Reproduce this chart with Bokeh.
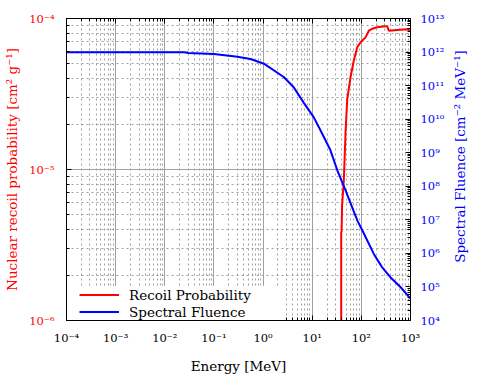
import math
from bokeh.plotting import figure
from bokeh.models import (Range1d, LogScale, LogAxis, FixedTicker, CustomJSTickFormatter,
                          Legend, Label)
from bokeh.embed import file_html
from bokeh.resources import INLINE

# ---- data ----
recoil_energy = [38.9, 38.9, 39.6, 40.5, 44.0, 47.6, 51.5, 60.3, 70.1, 82.4, 96.2, 121.6,
                 142.0, 166.0, 210.0, 309.0, 336.0, 363.0, 537.0, 857.0, 1000.0]
recoil_prob = [1e-8, 3.85e-6, 3.85e-6, 5.75e-6, 8.5e-6, 1.74e-5, 2.9e-5, 4.1e-5, 5.25e-5,
               6.45e-5, 6.97e-5, 7.5e-5, 8.3e-5, 8.55e-5, 8.75e-5, 8.9e-5, 8.85e-5, 8.3e-5,
               8.4e-5, 8.5e-5, 8.25e-5]

fluence_energy = [1e-4, 1e-3, 1e-2, 0.025, 0.03, 0.1, 0.3, 0.555, 1.04, 2.63, 4.2, 6.8,
                  10.7, 14.8, 23.4, 32.4, 47.9, 83.0, 105.0, 178.0, 263.0, 389.0, 631.0, 1000.0]
fluence = [9.8e11, 9.8e11, 9.8e11, 9.8e11, 9.4e11, 8.8e11, 7.3e11, 6.2e11, 4.5e11, 1.8e11,
           8.9e10, 3.0e10, 1.15e10, 4.6e9, 1.2e9, 3.0e8, 7.4e7, 9.5e6, 4.8e6, 9.8e5, 3.9e5,
           1.95e5, 9.8e4, 4.5e4]

x_exponents = list(range(-4, 4))
left_exponents = list(range(-6, -3))
right_exponents = list(range(4, 14))

labels = ["Recoil Probability", "Spectral Fluence"]
x_title = "Energy [MeV]"
left_title = "Nuclear recoil probability [cm\u00b2 g\u207b\u00b9]"
right_title = "Spectral Fluence [cm\u207b\u00b2 MeV\u207b\u00b9]"

FONT = "DejaVu Serif"
TICK_FS = "11.5px"
LABEL_FS = "13.5px"
GRID = "#a0a0a0"
FRAME_W, FRAME_H = 344, 302


def decade_ticks(exps):
    major = [10.0 ** e for e in exps]
    minor = [m * 10.0 ** e for e in exps[:-1] for m in range(2, 10)]
    return FixedTicker(ticks=major, minor_ticks=minor)


sup_fmt = CustomJSTickFormatter(code="""
const sup = {'-':'\u207b','0':'\u2070','1':'\u00b9','2':'\u00b2','3':'\u00b3','4':'\u2074',
             '5':'\u2075','6':'\u2076','7':'\u2077','8':'\u2078','9':'\u2079'};
const e = Math.round(Math.log10(tick));
return '10' + String(e).split('').map(c => sup[c]).join('');
""")
blank_fmt = CustomJSTickFormatter(code="return '';")

p = figure(frame_width=FRAME_W, frame_height=FRAME_H,
           x_axis_type="log", y_axis_type="log",
           x_range=Range1d(1e-4, 1e3), y_range=Range1d(1e-6, 1e-4),
           output_backend="svg", toolbar_location=None,
           min_border_left=66, min_border_right=84, min_border_top=18, min_border_bottom=52)
p.extra_y_ranges = {"flu": Range1d(1e4, 1e13)}
p.extra_y_scales = {"flu": LogScale()}
p.outline_line_color = "black"
p.outline_line_width = 1
p.background_fill_color = "white"
p.border_fill_color = "white"

xt = decade_ticks(x_exponents)
lt = decade_ticks(left_exponents)
rt = decade_ticks(right_exponents)


def style_axis(ax, color, label_color):
    ax.axis_line_color = "black"
    ax.major_tick_line_color = "black"
    ax.minor_tick_line_color = "black"
    ax.major_tick_in = 5
    ax.major_tick_out = 0
    ax.minor_tick_in = 3
    ax.minor_tick_out = 0
    ax.major_label_text_font = FONT
    ax.major_label_text_font_size = TICK_FS
    ax.major_label_text_color = color
    ax.axis_label_text_font = FONT
    ax.axis_label_text_font_size = LABEL_FS
    ax.axis_label_text_font_style = "normal"
    ax.axis_label_text_color = label_color


xa = p.xaxis[0]
xa.ticker = xt
xa.formatter = sup_fmt
xa.axis_label = x_title
style_axis(xa, "black", "black")
xa.major_label_standoff = 10
xa.axis_label_standoff = 10

ya = p.yaxis[0]
ya.ticker = lt
ya.formatter = sup_fmt
ya.axis_label = left_title
style_axis(ya, "red", "red")
ya.major_label_standoff = 12
ya.axis_label_standoff = 6

ra = LogAxis(y_range_name="flu", ticker=rt, formatter=sup_fmt)
style_axis(ra, "blue", "blue")
ra.major_label_standoff = 10
p.add_layout(ra, "right")

# right-hand title reading bottom-to-top, as in the reference
rlab = Label(x=12, y=FRAME_H / 2 + 13, x_units="screen", y_units="screen",
             text=right_title, angle=math.pi / 2, angle_units="rad",
             text_align="center", text_baseline="middle",
             text_font=FONT, text_font_size=LABEL_FS, text_color="blue")
p.add_layout(rlab, "right")

ta = LogAxis(ticker=xt, formatter=blank_fmt)
style_axis(ta, "black", "black")
ta.major_label_text_font_size = "0px"
ta.major_label_standoff = 0
p.add_layout(ta, "above")

p.xgrid.ticker = xt
p.ygrid.ticker = lt
for g in (p.xgrid[0], p.ygrid[0]):
    g.grid_line_color = GRID
    g.grid_line_width = 1
    g.minor_grid_line_color = GRID
    g.minor_grid_line_dash = "2 3"
    g.minor_grid_line_width = 1

r1 = p.line(recoil_energy, recoil_prob, line_color="red", line_width=2)
r2 = p.line(fluence_energy, fluence, line_color="blue", line_width=2, y_range_name="flu")

leg = Legend(items=[(labels[0], [r1]), (labels[1], [r2])], location=(13, 0))
leg.padding = 4
leg.margin = 0
leg.spacing = 0
leg.glyph_width = 40
leg.glyph_height = 17
leg.label_height = 17
leg.label_width = 156
leg.label_standoff = 10
leg.label_text_font = FONT
leg.label_text_font_size = LABEL_FS
leg.label_text_color = "black"
leg.border_line_color = None
leg.background_fill_color = "white"
leg.background_fill_alpha = 1.0
p.add_layout(leg, "center")

open("out.html", "w").write(file_html(p, INLINE))
